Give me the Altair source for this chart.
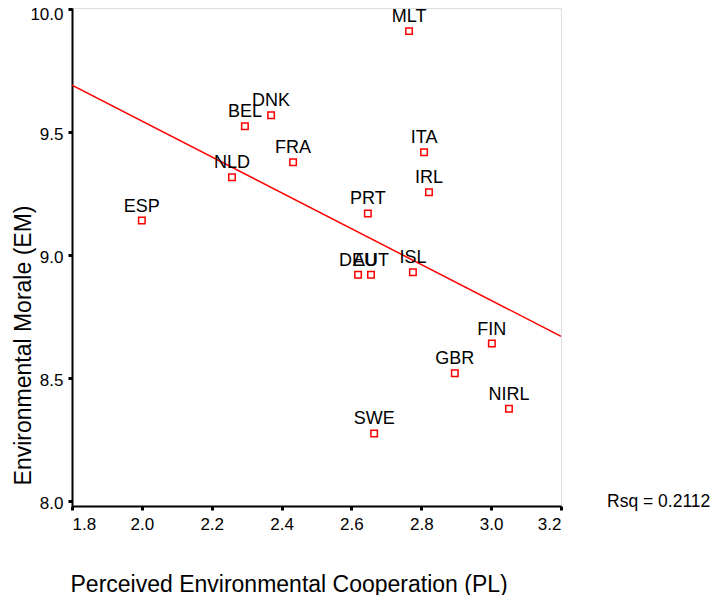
import altair as alt
import pandas as pd

countries = ["MLT", "DNK", "BEL", "FRA", "NLD", "ITA", "IRL", "ESP", "PRT",
             "DEU", "AUT", "ISL", "FIN", "GBR", "NIRL", "SWE"]
pl = [2.765, 2.370, 2.295, 2.433, 2.258, 2.808, 2.822, 2.000, 2.647,
      2.619, 2.656, 2.776, 3.002, 2.896, 3.051, 2.665]
em = [9.91, 9.568, 9.523, 9.377, 9.316, 9.418, 9.255, 9.14, 9.169,
      8.92, 8.92, 8.93, 8.64, 8.52, 8.375, 8.275]

fit_x = [1.8, 3.2]
fit_y = [9.69, 8.67]
rsq_text = ["Rsq = 0.2112"]

x_ticks = [1.8, 2.0, 2.2, 2.4, 2.6, 2.8, 3.0, 3.2]
y_ticks = [8.0, 8.5, 9.0, 9.5, 10.0]

pts = pd.DataFrame({"country": countries, "PL": pl, "EM": em})
fit = pd.DataFrame({"PL": fit_x, "EM": fit_y})
rsq = pd.DataFrame({"t": rsq_text})

FONT = "Liberation Sans"

xs = alt.Scale(domain=[1.8, 3.2], nice=False, zero=False)
ys = alt.Scale(domain=[7.98, 10.004], nice=False, zero=False)

xax = alt.Axis(values=x_ticks, format=".1f", title="Perceived Environmental Cooperation (PL)",
               grid=False, domainColor="black", domainWidth=2, tickColor="black",
               tickWidth=3, tickSize=4, labelFontSize=17, labelPadding=6,
               labelColor="black", titleFontSize=23, titleFontWeight="normal",
               titleColor="black", titleAnchor="start", titleAlign="left",
               titleBaseline="middle", titleX=-2, titleY=78,
               labelFont=FONT, titleFont=FONT)
yax = alt.Axis(values=y_ticks, format=".1f", title="Environmental Morale (EM)",
               grid=False, domainColor="black", domainWidth=2, tickColor="black",
               tickWidth=3, tickSize=4, labelFontSize=17, labelPadding=5,
               labelOffset={"condition": {"test": "datum.value >= 10", "value": 6},
                            "value": 2},
               labelColor="black", titleFontSize=23, titleFontWeight="normal",
               titleColor="black", titleAlign="center", titleBaseline="middle",
               titleAngle=270, titleX=-49, titleY=337,
               labelFont=FONT, titleFont=FONT)

points = alt.Chart(pts).mark_point(shape="square", size=42, filled=False,
                                    color="red", strokeWidth=1.5, opacity=1).encode(
    x=alt.X("PL:Q", scale=xs, axis=xax),
    y=alt.Y("EM:Q", scale=ys, axis=yax),
)

labels = alt.Chart(pts).mark_text(baseline="alphabetic", dy=-9, fontSize=18,
                                  font=FONT, color="black").encode(
    x=alt.X("PL:Q", scale=xs),
    y=alt.Y("EM:Q", scale=ys),
    text="country:N",
)

line = alt.Chart(fit).mark_line(color="red", strokeWidth=1.5, clip=True).encode(
    x=alt.X("PL:Q", scale=xs),
    y=alt.Y("EM:Q", scale=ys),
)

rsq_mark = alt.Chart(rsq).mark_text(align="left", baseline="middle", fontSize=17.5,
                                    font=FONT, color="black").encode(
    x=alt.value(535), y=alt.value(494), text="t:N")

chart = alt.layer(line, points, labels, rsq_mark).properties(
    width=489, height=498,
    autosize=alt.AutoSizeParams(type="none"),
    padding={"left": 64, "top": 0, "right": 149, "bottom": 89},
).configure_view(stroke="black", strokeWidth=1.5).configure(background="white")

chart.save("out.html", embed_options={"renderer": "svg", "actions": False})
